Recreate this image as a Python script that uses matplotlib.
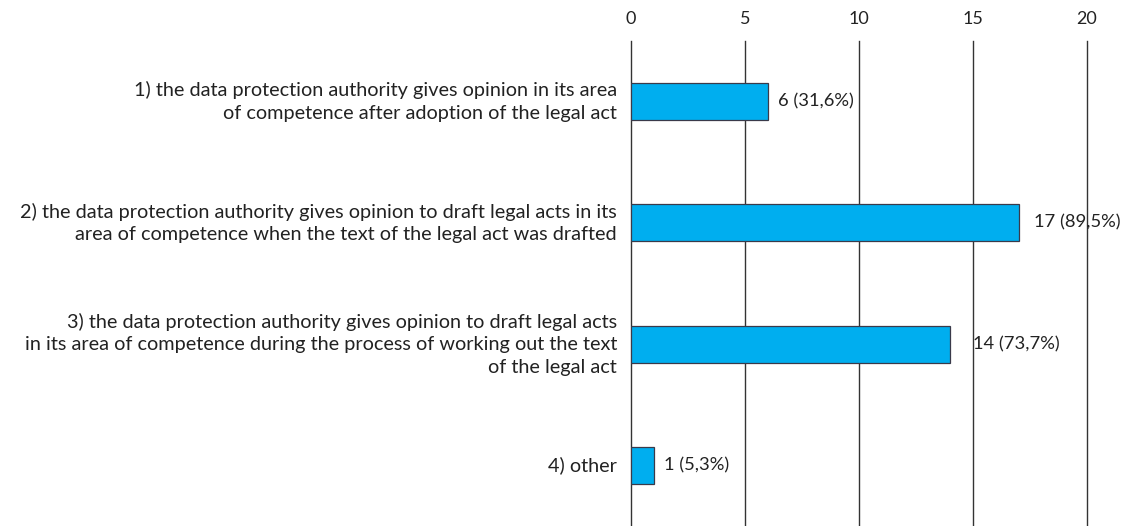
import matplotlib
matplotlib.use("Agg")
import matplotlib.pyplot as plt

categories = [
    "1) the data protection authority gives opinion in its area\nof competence after adoption of the legal act",
    "2) the data protection authority gives opinion to draft legal acts in its\narea of competence when the text of the legal act was drafted",
    "3) the data protection authority gives opinion to draft legal acts\nin its area of competence during the process of working out the text\nof the legal act",
    "4) other",
]
values = [6, 17, 14, 1]
value_labels = ["6 (31,6%)", "17 (89,5%)", "14 (73,7%)", "1 (5,3%)"]
xticks = [0, 5, 10, 15, 20]

plt.rcParams['font.family'] = ['Lato', 'DejaVu Sans']

fig = plt.figure(figsize=(11.31, 5.26), dpi=100)
ax = fig.add_axes([631/1131, 0, 456/1131, 485/526])

ypos = list(range(len(values)))
ax.barh(ypos, values, height=0.305, color='#00AEEF', edgecolor='#3a3a4a', linewidth=0.9, zorder=3)
ax.set_xlim(0, 20)
ax.set_ylim(3.5, -0.5)
ax.set_xticks(xticks)
ax.set_xticklabels([str(t) for t in xticks], fontsize=13, color='#222222')
ax.xaxis.tick_top()
ax.tick_params(axis='x', length=0, pad=10)
ax.set_yticks([])
for s in ax.spines.values():
    s.set_visible(False)
for t in xticks:
    ax.axvline(t, color='#333333', linewidth=1.0, zorder=2, clip_on=False)

offsets = [10, 15, 23, 10]
for y, v, lab, off in zip(ypos, values, value_labels, offsets):
    ax.annotate(lab, xy=(v, y), xytext=(off, 0), textcoords='offset pixels',
                va='center', ha='left', fontsize=13.2, color='#222222', zorder=4)

for y, cat in zip(ypos, categories):
    ax.annotate(cat, xy=(0, y), xytext=(-14, 0), textcoords='offset pixels',
                va='center', ha='right', fontsize=14.3, color='#222222',
                linespacing=1.4, multialignment='right', annotation_clip=False)

fig.savefig("out.png", dpi=100)
